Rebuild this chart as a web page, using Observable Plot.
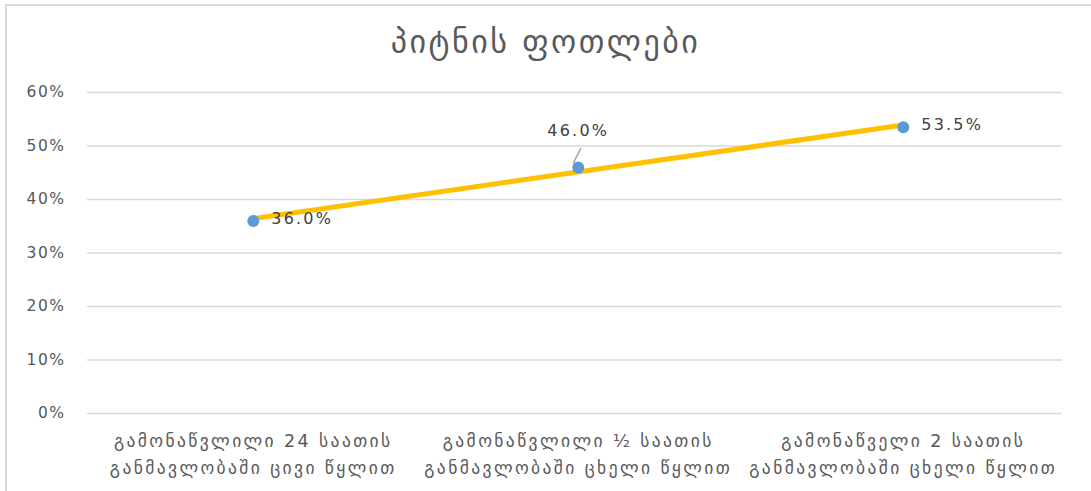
<!DOCTYPE html>
<html><head><meta charset="utf-8">
<script src="https://cdn.jsdelivr.net/npm/d3@7"></script>
<script src="https://cdn.jsdelivr.net/npm/@observablehq/plot@0.6"></script>
<style>
body{margin:0;background:#fff;}
#wrap{position:relative;width:1091px;height:491px;overflow:hidden;background:#fff;}
#frame{position:absolute;left:5px;top:4px;right:-4px;bottom:-4px;border-left:2px solid #d9d9d9;border-top:2px solid #d9d9d9;}
#title{position:absolute;top:23px;left:0;width:1091px;text-align:center;font-family:"DejaVu Sans",sans-serif;font-size:32px;letter-spacing:2.5px;color:#595959;}
#chart{position:absolute;top:70px;left:0;}
#chart g[aria-label="x-axis tick label"] text{letter-spacing:2.4px;}
#chart g[aria-label="y-axis tick label"] text{letter-spacing:1.5px;}
#chart g[aria-label="text"] text{letter-spacing:2.2px;}
</style>
</head><body>
<div id="wrap"><div id="frame"></div><div id="title">პიტნის ფოთლები</div><div id="chart"></div></div>
<script>
const categories = [
  "გამონაწვლილი 24 საათის\nგანმავლობაში ცივი წყლით",
  "გამონაწვლილი ½ საათის\nგანმავლობაში ცხელი წყლით",
  "გამონაწველი 2 საათის\nგანმავლობაში ცხელი წყლით"
];
const values = [0.36, 0.46, 0.535];
const yTicks = [0, 0.1, 0.2, 0.3, 0.4, 0.5, 0.6];

const data = categories.map((c, i) => ({i, category: c, value: values[i]}));
const fmt = d3.format(".1%");
const gray = "#595959";

const chart = Plot.plot({
  width: 1091,
  height: 421,
  marginTop: 22,
  marginBottom: 78,
  marginLeft: 87,
  marginRight: 29,
  style: {fontFamily: "'DejaVu Sans',sans-serif", fontSize: "16px", color: gray, background: "transparent"},
  x: {domain: [-0.51, 2.49]},
  y: {domain: [0, 0.6]},
  marks: [
    Plot.gridY(yTicks, {stroke: "#d9d9d9", strokeOpacity: 1, strokeWidth: 1.5}),
    Plot.axisY(yTicks, {tickSize: 0, tickPadding: 22, tickFormat: d3.format(".0%"), fill: gray, fontSize: 15.5, label: null}),
    Plot.axisX([0, 1, 2], {tickSize: 0, tickPadding: 14, tickFormat: i => categories[i], fill: gray, fontSize: 17.5, lineHeight: 1.55, label: null}),
    Plot.linearRegressionY(data, {x: "i", y: "value", stroke: "#FFC000", strokeWidth: 5, ci: 0}),
    Plot.link(data.filter(d => d.i === 1), {x1: d => d.i - 0.015, y1: d => d.value + 0.008, x2: d => d.i + 0.008, y2: d => d.value + 0.036, stroke: "#a6a6a6", strokeWidth: 1.5}),
    Plot.dot(data, {x: "i", y: "value", r: 6, fill: "#5B9BD5"}),
    Plot.text(data.filter(d => d.i !== 1), {x: "i", y: "value", text: d => fmt(d.value), textAnchor: "start", dx: 18, dy: -2, fill: "#404040", fontSize: 16}),
    Plot.text(data.filter(d => d.i === 1), {x: "i", y: "value", text: d => fmt(d.value), dy: -37, fill: "#404040", fontSize: 16})
  ]
});
document.getElementById("chart").appendChild(chart);
</script>
</body></html>
